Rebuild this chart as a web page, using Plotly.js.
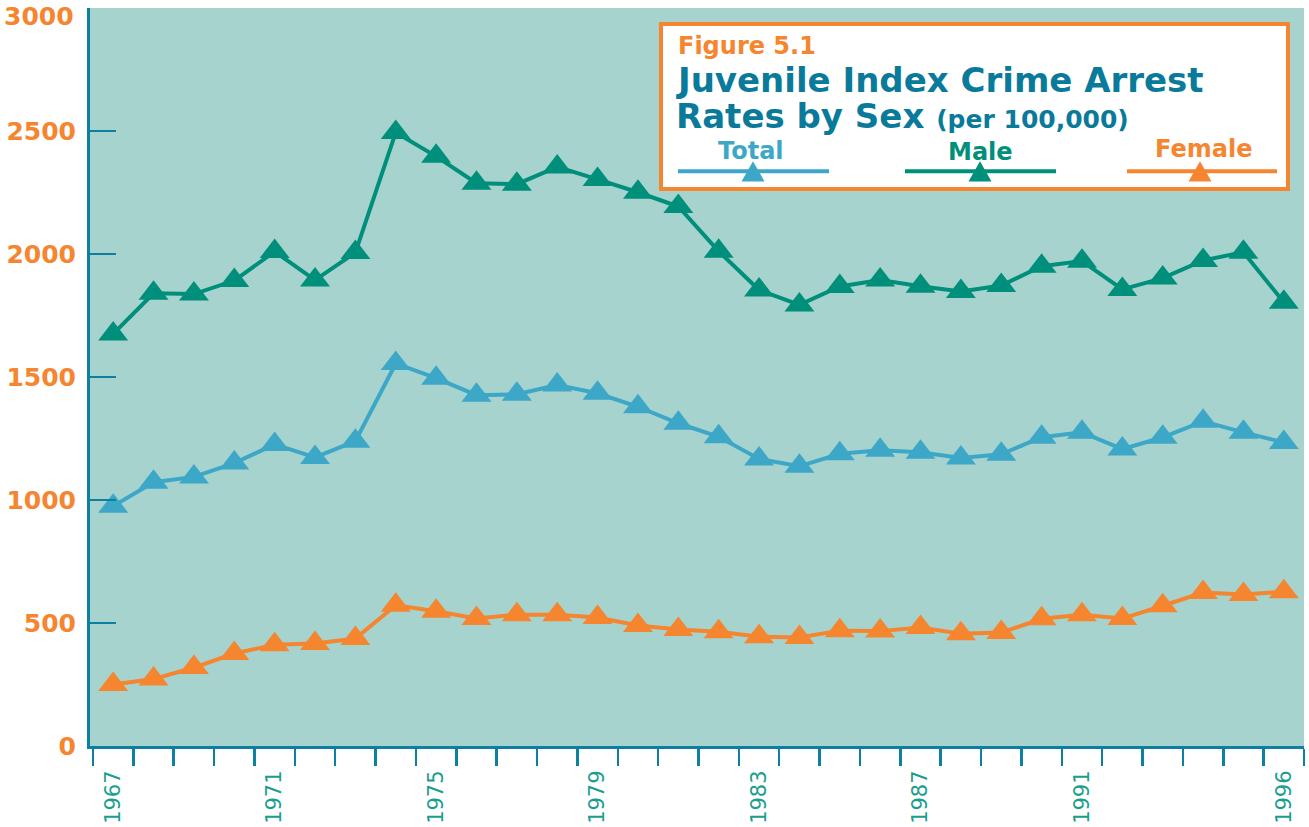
<!DOCTYPE html>
<html>
<head>
<meta charset="utf-8">
<script src="https://cdn.plot.ly/plotly-3.0.1.min.js"></script>
<style>html,body{margin:0;padding:0;background:#fff;}#chart{width:1309px;height:827px;}</style>
</head>
<body>
<div id="chart"></div>
<script>
// ---- data ----
const years = [1967,1968,1969,1970,1971,1972,1973,1974,1975,1976,1977,1978,1979,1980,1981,1982,1983,1984,1985,1986,1987,1988,1989,1990,1991,1992,1993,1994,1995,1996];
const male = [1675,1840,1837,1892,2010,1894,2006,2494,2397,2288,2284,2354,2303,2251,2193,2011,1854,1793,1868,1894,1869,1848,1872,1950,1971,1856,1902,1974,2007,1804];
const total = [975,1072,1094,1150,1226,1173,1239,1555,1495,1426,1430,1467,1434,1379,1312,1257,1167,1137,1188,1202,1194,1171,1186,1255,1275,1207,1255,1320,1275,1234];
const female = [250,272,319,376,412,417,437,572,548,518,534,534,522,490,474,464,444,441,469,467,482,456,461,517,534,518,570,624,616,627];
const yTicks = [0,500,1000,1500,2000,2500,3000];
const yearLabels = [1967,1971,1975,1979,1983,1987,1991,1996];
const seriesNames = ['Total','Male','Female'];
const figureLabel = 'Figure 5.1';
const titleLine1 = 'Juvenile Index Crime Arrest';
const titleLine2 = 'Rates by Sex';
const titleUnits = '(per 100,000)';

// ---- styles ----
const C_MALE = '#008f7a', C_TOTAL = '#3da7c7', C_FEMALE = '#f5852f';
const C_AXIS = '#0d7fa0', C_TITLE = '#0a7a9b', C_XLBL = '#1a9e8e';
const FONT = 'DejaVu Sans';

// plot area in pixels
const L = 90, R = 1304, T = 8, B = 746;
const px = x => (x - L) / (R - L);
const py = y => (B - y) / (B - T);
const pxPerYear = 40.37;

function mk(y, name, color) {
  return {
    x: years, y: y, name: name, type: 'scatter', mode: 'lines+markers',
    line: {color: color, width: 4},
    marker: {symbol: 'triangle-up', size: 26, color: color},
    cliponaxis: false, showlegend: false, hoverinfo: 'skip'
  };
}
const traces = [mk(female, seriesNames[2], C_FEMALE), mk(total, seriesNames[0], C_TOTAL), mk(male, seriesNames[1], C_MALE)];

// legend box shapes
const shapes = [
  {type:'rect', xref:'paper', yref:'paper', x0:px(661), x1:px(1288), y0:py(24), y1:py(189),
   line:{color:C_FEMALE, width:4}, fillcolor:'#ffffff', layer:'above'}
];
const legItems = [
  {name: seriesNames[0], color: C_TOTAL, x0: 678, x1: 829, tx: 753, lx: 751, ly: 151},
  {name: seriesNames[1], color: C_MALE, x0: 905, x1: 1056, tx: 980, lx: 980, ly: 152},
  {name: seriesNames[2], color: C_FEMALE, x0: 1127, x1: 1277, tx: 1200, lx: 1203, ly: 149}
];
const yTopLabel = yTicks[yTicks.length - 1];
const annotations = [
  {xref:'paper', yref:'paper', x:px(676), y:py(46), xanchor:'left', yanchor:'middle', showarrow:false,
   text: figureLabel, font:{family:FONT, size:24, color:C_FEMALE, weight:'bold'}},
  {xref:'paper', yref:'paper', x:px(674), y:py(80), xanchor:'left', yanchor:'middle', showarrow:false,
   text: titleLine1, font:{family:FONT, size:34, color:C_TITLE, weight:'bold'}},
  {xref:'paper', yref:'paper', x:px(674), y:py(116), xanchor:'left', yanchor:'middle', showarrow:false,
   text: titleLine2 + ' <span style="font-size:25px">' + titleUnits + '</span>', font:{family:FONT, size:34, color:C_TITLE, weight:'bold'}},
  // top y tick label, nudged down so it stays inside the page
  {xref:'paper', yref:'y', x:px(76), y:yTopLabel, yshift:-8, xanchor:'right', yanchor:'middle', showarrow:false,
   text: String(yTopLabel), font:{family:FONT, size:25, color:C_FEMALE, weight:'bold'}}
];
legItems.forEach(it => {
  shapes.push({type:'line', xref:'paper', yref:'paper', x0:px(it.x0), x1:px(it.x1), y0:py(171.3), y1:py(171.3),
    line:{color:it.color, width:4}, layer:'above'});
  const path = 'M' + px(it.tx - 11.5) + ',' + py(181.5) + ' L' + px(it.tx + 11.5) + ',' + py(181.5) + ' L' + px(it.tx) + ',' + py(161.3) + ' Z';
  shapes.push({type:'path', xref:'paper', yref:'paper', path: path, fillcolor: it.color, line:{width:0}, layer:'above'});
  annotations.push({xref:'paper', yref:'paper', x:px(it.lx), y:py(it.ly), xanchor:'center', yanchor:'middle', showarrow:false,
    text: it.name, font:{family:FONT, size:24, color:it.color, weight:'bold'}});
});

const layout = {
  width: 1309, height: 827,
  margin: {l: L, r: 1309 - R, t: T, b: 827 - B, pad: 0},
  paper_bgcolor: '#ffffff', plot_bgcolor: '#a7d3ce',
  showlegend: false, hovermode: false,
  xaxis: {
    type: 'linear', range: [1966.5 - 3 / pxPerYear, 1996.5],
    showgrid: false, zeroline: false,
    showline: true, linecolor: C_AXIS, linewidth: 3,
    tickmode: 'array', tickvals: yearLabels, ticktext: yearLabels.map(String),
    ticks: 'outside', ticklen: 13, tickcolor: 'rgba(0,0,0,0)', tickwidth: 1,
    minor: {tick0: 1966.5, dtick: 1, ticks: 'outside', ticklen: 17, tickwidth: 2.5, tickcolor: C_AXIS, showgrid: false},
    tickangle: -90,
    tickfont: {family: FONT, size: 21, color: C_XLBL}
  },
  yaxis: {
    range: [0, 3000], showgrid: false, zeroline: false,
    showline: true, linecolor: C_AXIS, linewidth: 3,
    tickmode: 'array', tickvals: yTicks, ticktext: yTicks.map(v => v === yTopLabel ? '' : String(v)),
    ticks: 'inside', ticklen: 26, tickwidth: 2.5, tickcolor: C_AXIS,
    ticklabelstandoff: 6,
    tickfont: {family: FONT, size: 25, color: C_FEMALE, weight: 'bold'}
  },
  shapes: shapes,
  annotations: annotations
};
Plotly.newPlot('chart', traces, layout, {staticPlot: true, displayModeBar: false});
</script>
</body>
</html>
